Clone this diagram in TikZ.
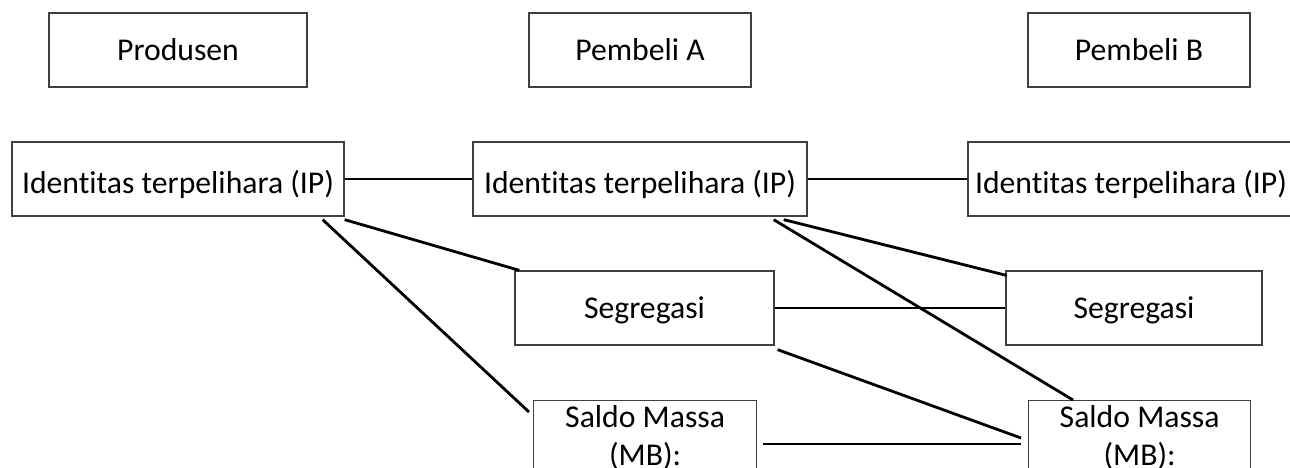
\documentclass[tikz,border=0pt]{standalone}
\usepackage{fontspec}
\setmainfont{Carlito}[Ligatures=NoCommon]
\begin{document}
\begin{tikzpicture}[x=1pt,y=-1pt,
  lbl/.style={inner sep=0pt, font=\fontsize{31.7}{38.5}\selectfont},
  box/.style={lbl, draw=black!75, line width=1.3pt, text height=21pt, text depth=0pt, minimum height=74pt},
  ipbox/.style={box, text height=28pt},
  mbbox/.style={draw=black!75, line width=1.3pt, minimum height=140pt, anchor=north west, inner sep=0pt},
  link/.style={draw=black, line width=2.8pt}]
\useasboundingbox (0,0) rectangle (1290,468);
\clip (0,0) rectangle (1290,468);
% header row
\node[box, minimum width=258pt] (prod) at (178,50) {Produsen};
\node[box, minimum width=222pt] (pa) at (640,50) {Pembeli A};
\node[box, minimum width=222pt] (pb) at (1139,50) {Pembeli B};
% IP row
\node[ipbox, minimum width=332pt] (ip1) at (178,179) {Identitas terpelihara (IP)};
\node[ipbox, minimum width=334pt] (ip2) at (640,179) {Identitas terpelihara (IP)};
\node[ipbox, minimum width=326pt] (ip3) at (1131,179) {Identitas terpelihara (IP)};
% Segregasi row
\node[box, minimum width=259pt] (seg1) at (644.5,308) {Segregasi};
\node[box, minimum width=256pt] (seg2) at (1134,308) {Segregasi};
% Mass balance row
\node[mbbox, minimum width=223pt] (mb1) at (533,400) {};
\node[mbbox, minimum width=222pt] (mb2) at (1028,400) {};
\node[lbl, anchor=base] (mb1a) at ([yshift=-27pt]mb1.north) {Saldo Massa};
\node[lbl, anchor=base] (mb1b) at ([yshift=-65pt]mb1.north) {(MB):};
\node[lbl, anchor=base] (mb2a) at ([yshift=-27pt]mb2.north) {Saldo Massa};
\node[lbl, anchor=base] (mb2b) at ([yshift=-65pt]mb2.north) {(MB):};
% connectors
\draw[link] (ip1.east) -- (ip2.west);
\draw[link] (ip2.east) -- (ip3.west);
\draw[link] ([yshift=-3pt]ip1.south east) -- ([xshift=5pt]seg1.north west);
\draw[link] ([xshift=-22pt,yshift=-3pt]ip1.south east) -- ([xshift=-4pt,yshift=-12pt]mb1.north west);
\draw[link] ([xshift=-24pt,yshift=-3pt]ip2.south east) -- ([xshift=1pt,yshift=-5pt]seg2.north west);
\draw[link] ([xshift=-34pt,yshift=-3pt]ip2.south east) -- ([xshift=45pt]mb2.north west);
\draw[link] (seg1.east) -- (seg2.west);
\draw[link] ([xshift=3pt,yshift=-4pt]seg1.south east) -- ([xshift=-7pt,yshift=-38pt]mb2.north west);
\draw[link] ([xshift=6pt,yshift=-44pt]mb1.north east) -- ([xshift=-7pt,yshift=-44pt]mb2.north west);
\end{tikzpicture}
\end{document}
